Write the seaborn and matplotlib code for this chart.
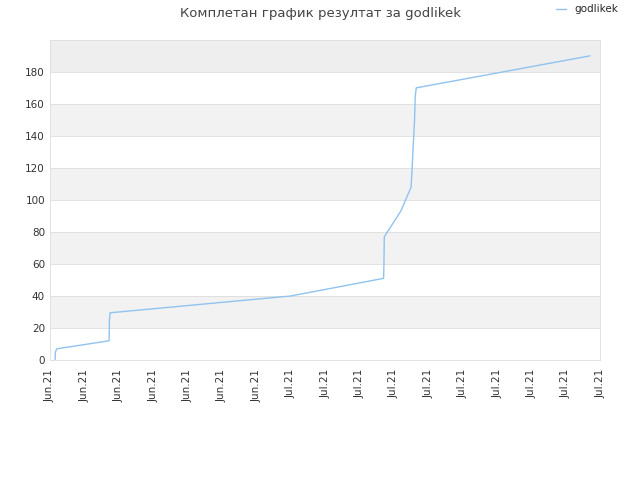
import matplotlib
matplotlib.use("Agg")
import matplotlib.pyplot as plt
import seaborn as sns
import pandas as pd

# data (x in tick units, 0..16)
x_vals = [0.15, 0.16, 0.2, 1.72, 1.73, 1.75, 7.0, 9.7, 9.71, 9.72, 10.2, 10.5, 10.6, 10.62, 10.65, 15.7]
y_vals = [0, 5, 7, 12, 25, 29.5, 40, 51, 60, 77, 93, 108, 150, 165, 170, 190]
tick_labels = ['Jun.21'] * 7 + ['Jul.21'] * 10

sns.set_style('white')
plt.rcParams['font.family'] = ['DejaVu Sans']

fig, ax = plt.subplots(figsize=(6.4, 4.8), dpi=100)
fig.subplots_adjust(left=0.078, right=0.938, top=0.917, bottom=0.25)

# alternating bands
for i, lo in enumerate(range(0, 200, 20)):
    if lo == 180:
        c = '#eeeeee'
    elif i % 2 == 1:
        c = '#f2f2f2'
    else:
        c = 'white'
    ax.axhspan(lo, lo + 20, color=c, zorder=0, lw=0)
    ax.axhline(lo, color='#dddddd', lw=0.6, zorder=0.5)

df = pd.DataFrame({'x': x_vals, 'y': y_vals})
sns.lineplot(data=df, x='x', y='y', ax=ax, color='#90c3f0', lw=1, label='godlikek', sort=False)

ax.set_xlim(0, 16)
ax.set_ylim(0, 200)
ax.set_xticks(range(17))
ax.set_xticklabels(tick_labels, rotation=90, fontsize=7.5, color='#333333')
ax.set_yticks(range(0, 181, 20))
ax.tick_params(axis='y', labelsize=7.5, colors='#333333', length=0)
ax.tick_params(axis='x', length=3, colors='#333333')
ax.set_xlabel('')
ax.set_ylabel('')
for s in ax.spines.values():
    s.set_color('#dddddd')
    s.set_linewidth(0.6)

fig.suptitle('Комплетан график резултат за godlikek', fontsize=9.5, color='#444444', y=0.985)
ax.legend(loc='upper right', bbox_to_anchor=(1.05, 1.14), frameon=False, fontsize=7.5, handlelength=1)

fig.savefig('out.png', dpi=100)
